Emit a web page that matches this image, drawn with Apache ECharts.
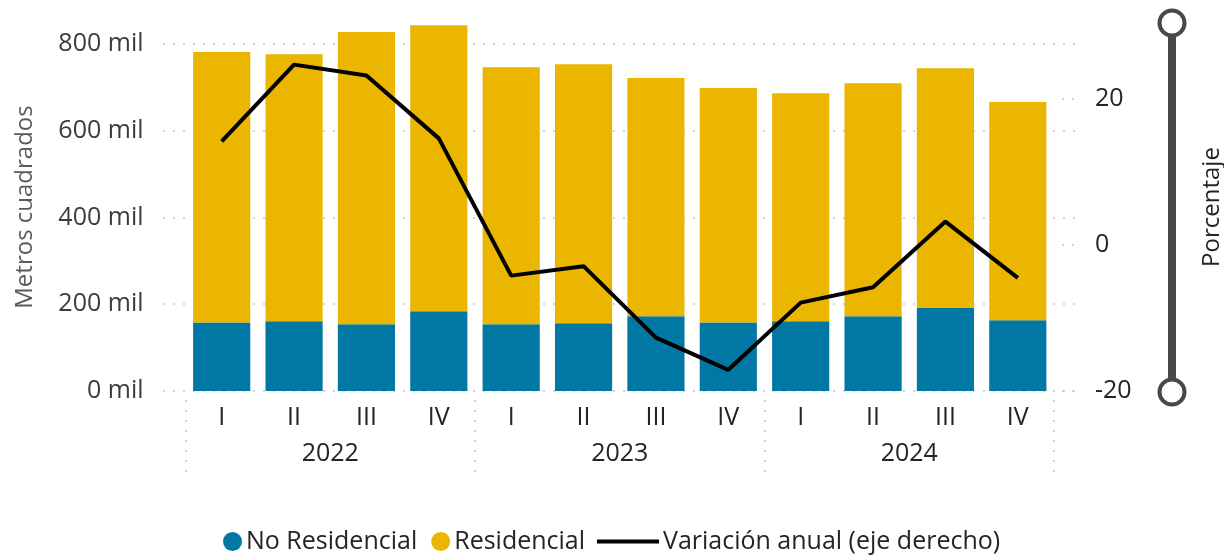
<!DOCTYPE html>
<html>
<head>
<meta charset="utf-8">
<script src="https://cdn.jsdelivr.net/npm/echarts@6/dist/echarts.min.js"></script>
<style>
  html, body { margin: 0; padding: 0; background: #fff; }
  #chart { width: 1224px; height: 559px; }
</style>
</head>
<body>
<div id="chart"></div>
<script>
// trimestres y años
const quarters = ['I', 'II', 'III', 'IV', 'I', 'II', 'III', 'IV', 'I', 'II', 'III', 'IV']
const years = ['2022', '2023', '2024']
// miles de metros cuadrados
const noResidencial = [158, 161, 154, 184, 154, 156, 172, 158, 161, 172, 191, 163]
const residencial = [623, 615, 673, 659, 592, 597, 549, 540, 525, 537, 553, 503]
// variación anual (%)
const variacion = [14.2, 24.7, 23.2, 14.6, -4.2, -2.9, -12.7, -17.1, -7.9, -5.8, 3.2, -4.5]
const leftTicks = [0, 200, 400, 600, 800]
const rightTicks = [-20, 0, 20]

const FONT = 'Open Sans'
const dotted = { color: '#c6c6c6', width: 1.5, type: [2, 8] }

const chart = echarts.init(document.getElementById('chart'))
const option = {
  animation: false,
  textStyle: { fontFamily: FONT },
  grid: [
    { left: 185.5, right: 170, top: 23, bottom: 168, outerBoundsMode: 'none' },
    // grid auxiliar solo para las líneas de fondo más anchas
    { left: 163, right: 149, top: 23, bottom: 168, outerBoundsMode: 'none' },
    // grid para los años y sus separadores
    { left: 185.5, right: 170, top: 400, bottom: 86, outerBoundsMode: 'none' }
  ],
  xAxis: [
    {
      type: 'category',
      gridIndex: 0,
      data: quarters,
      axisLine: { show: false },
      axisTick: { show: false },
      axisLabel: { color: '#252423', fontSize: 25, margin: 14, fontFamily: FONT }
    },
    { type: 'value', gridIndex: 1, show: false, min: 0, max: 1 },
    {
      type: 'category',
      gridIndex: 2,
      data: years,
      position: 'top',
      axisLine: { show: false },
      axisTick: { show: false },
      splitLine: { show: true, lineStyle: dotted },
      axisLabel: { inside: true, color: '#252423', fontSize: 25, margin: 41, fontFamily: FONT }
    }
  ],
  yAxis: [
    {
      type: 'value',
      gridIndex: 0,
      min: 0,
      max: 848,
      interval: 200,
      name: 'Metros cuadrados',
      nameLocation: 'middle',
      nameRotate: 90,
      nameGap: 148,
      nameTextStyle: { color: '#5a5a5a', fontSize: 24, fontFamily: FONT },
      axisLine: { show: false },
      axisTick: { show: false },
      splitLine: { show: false },
      axisLabel: {
        color: '#3b3b3b', fontSize: 25, margin: 42, fontFamily: FONT,
        customValues: leftTicks,
        formatter: v => v + ' mil'
      }
    },
    {
      type: 'value',
      gridIndex: 0,
      position: 'right',
      min: -20,
      max: 30.4,
      interval: 20,
      name: 'Porcentaje',
      nameLocation: 'middle',
      nameRotate: 90,
      nameGap: 146,
      nameTextStyle: { color: '#252423', fontSize: 24, fontFamily: FONT },
      axisLine: { show: false },
      axisTick: {
        show: true, length: 22, customValues: rightTicks,
        lineStyle: { color: '#c6c6c6', width: 1.5, type: [2, 8], dashOffset: 2 }
      },
      splitLine: { show: false },
      axisLabel: {
        color: '#252423', fontSize: 25, margin: 41, fontFamily: FONT,
        customValues: rightTicks
      }
    },
    {
      type: 'value',
      gridIndex: 1,
      min: 0,
      max: 848,
      interval: 200,
      axisLine: { show: false },
      axisTick: { show: false },
      axisLabel: { show: false },
      splitLine: { show: true, showMaxLine: false, lineStyle: dotted }
    },
    { type: 'value', gridIndex: 2, show: false }
  ],
  legend: [
    {
      data: ['No Residencial', 'Residencial'],
      icon: 'circle',
      left: 223,
      top: 529,
      padding: 0,
      itemWidth: 19,
      itemHeight: 19,
      itemGap: 14,
      textStyle: { color: '#252423', fontSize: 25, fontFamily: FONT, padding: [0, 0, 0, -1] }
    },
    {
      data: [{ name: 'Variación anual (eje derecho)', icon: 'rect' }],
      left: 597,
      top: 529,
      padding: 0,
      itemWidth: 62,
      itemHeight: 4,
      textStyle: { color: '#252423', fontSize: 25, fontFamily: FONT, padding: [0, 0, 0, -1] }
    }
  ],
  series: [
    {
      name: 'No Residencial',
      type: 'bar',
      stack: 'total',
      xAxisIndex: 0,
      yAxisIndex: 0,
      barCategoryGap: '21%',
      itemStyle: { color: '#0178a4' },
      data: noResidencial
    },
    {
      name: 'Residencial',
      type: 'bar',
      stack: 'total',
      xAxisIndex: 0,
      yAxisIndex: 0,
      barCategoryGap: '21%',
      itemStyle: { color: '#ebb600' },
      data: residencial
    },
    {
      name: 'Variación anual (eje derecho)',
      type: 'line',
      xAxisIndex: 0,
      yAxisIndex: 1,
      showSymbol: false,
      symbol: 'none',
      lineStyle: { color: '#000', width: 4 },
      itemStyle: { color: '#000' },
      z: 5,
      data: variacion
    }
  ],
  // deslizador de zoom (decorativo) a la derecha
  graphic: [
    { type: 'line', shape: { x1: 1172, y1: 23, x2: 1172, y2: 392 }, style: { stroke: '#484848', lineWidth: 8 } },
    { type: 'circle', shape: { cx: 1172, cy: 23, r: 12.5 }, style: { fill: '#fff', stroke: '#484848', lineWidth: 4 } },
    { type: 'circle', shape: { cx: 1172, cy: 392, r: 12.5 }, style: { fill: '#fff', stroke: '#484848', lineWidth: 4 } }
  ]
}
chart.setOption(option)
</script>
</body>
</html>
